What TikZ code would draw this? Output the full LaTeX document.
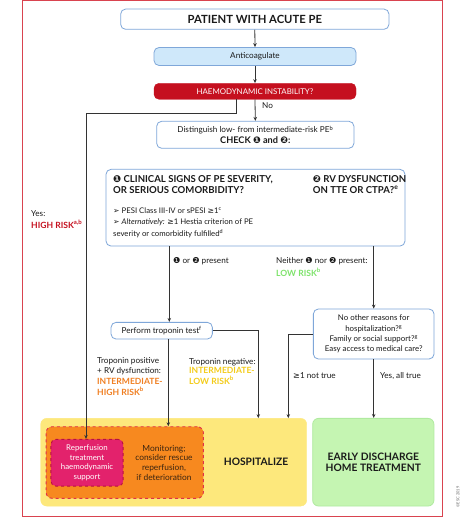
\documentclass[tikz,border=0pt]{standalone}
\usepackage{fontspec}
\setmainfont{Lato}
\newfontfamily\sym{DejaVu Sans}
\usetikzlibrary{arrows.meta,calc}
\definecolor{framered}{HTML}{D9434F}
\definecolor{boxblue}{HTML}{7FA7D9}
\definecolor{anticfill}{HTML}{CFE8FA}
\definecolor{haemred}{HTML}{C5101F}
\definecolor{orangetxt}{HTML}{F07F22}
\definecolor{yellowtxt}{HTML}{F4CC1A}
\definecolor{greentxt}{HTML}{7EE36B}
\definecolor{yellowfill}{HTML}{FDE87C}
\definecolor{greenfill}{HTML}{C5F5B2}
\definecolor{greenline}{HTML}{B0EAA0}
\definecolor{orangefill}{HTML}{F7891F}
\definecolor{dashred}{HTML}{E0304A}
\definecolor{reperffill}{HTML}{E3226C}
\definecolor{reperfline}{HTML}{B8103F}
\definecolor{linegray}{HTML}{333333}
\definecolor{textdark}{HTML}{1A1A1A}
\definecolor{monittxt}{HTML}{3A2410}
\tikzset{
  bx/.style={draw=boxblue, line width=0.8bp, rounded corners=5bp, inner sep=0pt, align=center, text=textdark},
  small/.style={font=\fontsize{8.2}{10.5}\selectfont},
  risk/.style={font=\bfseries\fontsize{8.6}{10.8}\selectfont},
  arr/.style={draw=linegray, line width=0.8bp, -{Stealth[length=4bp,width=3.5bp]}},
  lbl/.style={inner sep=0pt, anchor=west, text=textdark, small, align=left},
}
\newcommand{\symone}{{\sym\char"2776}}
\newcommand{\symtwo}{{\sym\char"2777}}
\newcommand{\symarr}{{\sym\char"27A2}}
\newcommand{\symgeq}{{\sym\char"2265}}
\begin{document}
\begin{tikzpicture}[x=1bp,y=-1bp]
\useasboundingbox (0,0) rectangle (474,523);
\fill[white] (0,0) rectangle (474,523);
% outer frame
\draw[framered, line width=1bp] (22.7,0.5) rectangle (442.7,516.7);
% boxes
\node[bx, fill=white, minimum width=268.3bp, minimum height=20.3bp, font=\bfseries\fontsize{11.3}{13}\selectfont] (patient) at (254.8,19.2) {PATIENT WITH ACUTE PE};
\node[bx, fill=anticfill, minimum width=202bp, minimum height=18bp, small] (antic) at (255,56.5) {Anticoagulate};
\node[draw=haemred, fill=haemred, rounded corners=5bp, minimum width=202bp, minimum height=16bp, inner sep=0pt, text=white, font=\fontsize{7.9}{10}\selectfont] (haemo) at (255,91.3) {HAEMODYNAMIC INSTABILITY?};
\node[bx, fill=white, minimum width=197.3bp, minimum height=27bp, font=\fontsize{8.2}{10.8}\selectfont] (dist) at (255.3,134.8) {Distinguish low- from intermediate-risk PE\textsuperscript{b}\\{\bfseries\fontsize{9.2}{10.8}\selectfont CHECK \symone\ and \symtwo:}};
\node[bx, fill=white, minimum width=299bp, minimum height=76.7bp] (bigbox) at (255.5,207.7) {};
\node[bx, fill=white, minimum width=101.3bp, minimum height=16.7bp, small] (trop) at (161.7,330.7) {Perform troponin test\textsuperscript{f}};
\node[bx, fill=white, minimum width=120.7bp, minimum height=50bp, font=\fontsize{7.9}{10.3}\selectfont] (noother) at (373.7,334) {No other reasons for\\hospitalization?\textsuperscript{g}\\Family or social support?\textsuperscript{g}\\Easy access to medical care?};
\node[draw=yellowfill, fill=yellowfill, rounded corners=6bp, minimum width=266bp, minimum height=87.7bp, inner sep=0pt] (yellow) at (173.7,462.2) {};
\node[font=\bfseries\fontsize{10.3}{12}\selectfont, text=textdark] (hosp) at (256,462) {HOSPITALIZE};
\node[draw=greenline, line width=0.8bp, fill=greenfill, rounded corners=6bp, minimum width=121.3bp, minimum height=87.7bp, inner sep=0pt, align=center, font=\bfseries\fontsize{10.3}{11.5}\selectfont, text=textdark] (green) at (373.3,462.2) {EARLY DISCHARGE\\HOME TREATMENT};
\node[draw=dashred, dashed, line width=0.9bp, fill=orangefill, rounded corners=6bp, minimum width=157.3bp, minimum height=71.6bp, inner sep=0pt] (orange) at (124.7,462.5) {};
\node[draw=reperfline, dashed, line width=0.9bp, fill=reperffill, rounded corners=5bp, minimum width=72.3bp, minimum height=46.7bp, inner sep=0pt, align=center, text=white, font=\fontsize{7.9}{9.5}\selectfont] (reperf) at (87,462.7) {Reperfusion\\treatment\\haemodynamic\\support};
\node[align=center, text=monittxt, font=\fontsize{8.4}{9.7}\selectfont, inner sep=0pt] (monit) at (164,462.7) {Monitoring;\\consider rescue\\reperfusion,\\if deterioration};
% big box contents
\node[lbl, anchor=north west, font=\bfseries\fontsize{9.6}{11}\selectfont] (c1txt) at (113,175) {\symone\ CLINICAL SIGNS OF PE SEVERITY,\\OR SERIOUS COMORBIDITY?};
\node[lbl, anchor=north west, font=\bfseries\fontsize{9.6}{11}\selectfont] (c2txt) at (312.7,175) {\symtwo\ RV DYSFUNCTION\\ON TTE OR CTPA?\textsuperscript{e}};
\node[lbl, anchor=north west, font=\fontsize{7.8}{11.5}\selectfont] (bullets) at (113,207.5) {\symarr\ PESI Class III-IV or sPESI \symgeq1\textsuperscript{c}\\\symarr\ \textit{Alternatively:} \symgeq1 Hestia criterion of PE\\severity or comorbidity fulfilled\textsuperscript{d}};
% coordinates
\coordinate (yesturn) at (86,113);
\coordinate (cx1) at (169.3,0);
\coordinate (cx2) at (258.3,0);
\coordinate (cx3) at (168.3,0);
\coordinate (cx4) at (288.3,0);
\coordinate (cx5) at (86,0);
% connectors
\draw[arr] (patient.south) -- (antic.north);
\draw[arr] (antic.south) -- (haemo.north);
\draw[arr] (haemo.south) -- (dist.north);
\draw[arr] ([xshift=-18.5bp]haemo.south) |- (yesturn) -- (reperf.north -| cx5);
\draw[arr] (bigbox.south -| cx1) -- (trop.north -| cx1);
\draw[arr] (bigbox.south -| noother) -- (noother.north);
\draw[arr] (trop.east) -| (yellow.north -| cx2);
\draw[arr] (trop.south -| cx3) -- (orange.north -| cx3);
\draw[arr] (noother.west) -| (yellow.north -| cx4);
\draw[arr] (noother.south) -- (green.north -| noother);
% labels
\node[lbl] (no) at (262,106) {No};
\node[lbl] (yes) at (31,214) {Yes:};
\node[lbl, text=haemred, risk] (high) at (31,224.5) {HIGH RISK\textsuperscript{a,b}};
\node[lbl] (pres) at (173,261) {\symone\ or \symtwo\ present};
\node[lbl] (neither) at (276,261) {Neither \symone\ nor \symtwo\ present:};
\node[lbl, text=greentxt, risk] (low) at (276,272) {LOW RISK\textsuperscript{b}};
\node[lbl, anchor=north west] (tpos) at (97,357) {Troponin positive\\+ RV dysfunction:};
\node[lbl, anchor=north west, text=orangetxt, risk] (ihigh) at (97,378) {INTERMEDIATE-\\HIGH RISK\textsuperscript{b}};
\node[lbl] (tneg) at (189,362) {Troponin negative:};
\node[lbl, anchor=north west, text=yellowtxt, risk] (ilow) at (189,367.5) {INTERMEDIATE-\\LOW RISK\textsuperscript{b}};
\node[lbl] (notrue) at (293,376) {\symgeq1 not true};
\node[lbl] (alltrue) at (380,376) {Yes, all true};
\node[rotate=90, text=black!60, font=\fontsize{4}{5}\selectfont, inner sep=0pt] (esc) at (458,497) {\textcopyright ESC 2019};
\end{tikzpicture}
\end{document}
